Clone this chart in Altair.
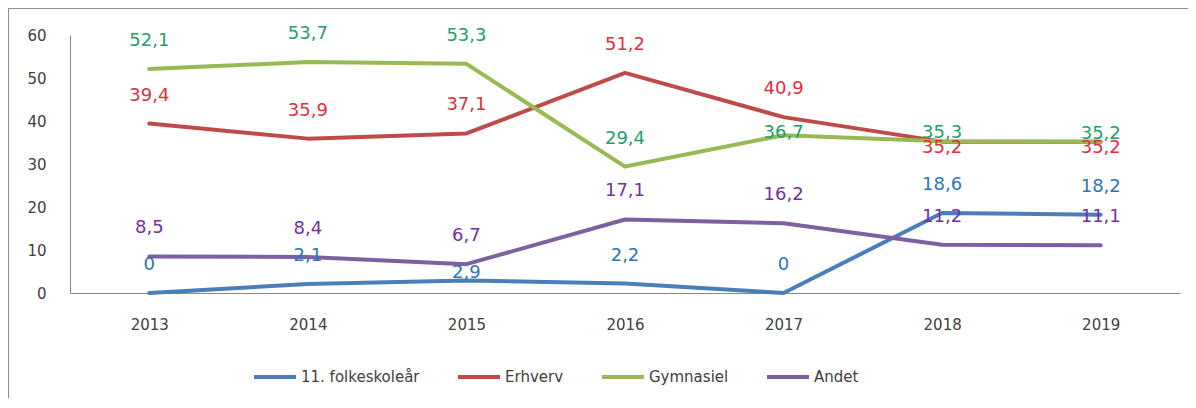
import altair as alt
import pandas as pd

years = ["2013", "2014", "2015", "2016", "2017", "2018", "2019"]
series_names = ["11. folkeskoleår", "Erhverv", "Gymnasiel", "Andet"]
folkeskole = [0, 2.1, 2.9, 2.2, 0, 18.6, 18.2]
erhverv = [39.4, 35.9, 37.1, 51.2, 40.9, 35.2, 35.2]
gymnasiel = [52.1, 53.7, 53.3, 29.4, 36.7, 35.3, 35.2]
andet = [8.5, 8.4, 6.7, 17.1, 16.2, 11.2, 11.1]

# styling
line_colors = ["#4A7EBB", "#BE4B48", "#98B954", "#7D60A0"]
label_colors = ["#2E75B6", "#E0303A", "#1FA06A", "#7030A0"]
# label offsets in pixels (negative = above point)
label_dy = {
    "11. folkeskoleår": [-28, -28, -8, -28, -28, -28, -28],
    "Erhverv": [-28, -28, -28, -28, -28, 6, 6],
    "Gymnasiel": [-28, -28, -28, -28, -2, -8, -8],
    "Andet": [-28, -28, -28, -28, -28, -28, -28],
}

values = [folkeskole, erhverv, gymnasiel, andet]
rows = []
for name, vals in zip(series_names, values):
    for i, (yr, v) in enumerate(zip(years, vals)):
        rows.append({
            "year": yr,
            "series": name,
            "value": v,
            "label": f"{v:g}".replace(".", ","),
            "dy": label_dy[name][i],
        })
df = pd.DataFrame(rows)

FONT = "DejaVu Sans"

x_scale = alt.Scale(type="point", padding=0.5)
y_scale = alt.Scale(domain=[0, 60], nice=False)

x_enc = alt.X("year:O", scale=x_scale, sort=years,
              axis=alt.Axis(title=None, labelAngle=0, ticks=False, labelPadding=24,
                            labelFontSize=15, labelColor="#404040", labelFont=FONT,
                            domainColor="#868686", grid=False))
y_enc = alt.Y("value:Q", scale=y_scale,
              axis=alt.Axis(title=None, values=[0, 10, 20, 30, 40, 50, 60], ticks=False,
                            labelPadding=24, labelFontSize=15, labelColor="#404040",
                            labelFont=FONT, domainColor="#868686", grid=False))

base = alt.Chart(df)

lines = base.mark_line(strokeWidth=4, strokeCap="round", strokeJoin="round").encode(
    x=x_enc,
    y=y_enc,
    color=alt.Color("series:N", sort=series_names,
                    scale=alt.Scale(domain=series_names, range=line_colors),
                    legend=alt.Legend(title=None, orient="none", direction="horizontal",
                                      columns=4, legendX=182, legendY=319,
                                      symbolType="stroke", symbolSize=1764,
                                      symbolStrokeWidth=4, labelFont=FONT,
                                      labelFontSize=15, labelColor="#404040",
                                      labelOffset=3, columnPadding=30)),
    detail="series:N",
)

label_layers = []
for off in sorted(df["dy"].unique()):
    label_layers.append(
        base.transform_filter(alt.datum.dy == int(off)).mark_text(
            fontSize=18, font=FONT, baseline="middle", align="center", dy=int(off)
        ).encode(
            x=alt.X("year:O", sort=years, scale=x_scale),
            y=alt.Y("value:Q", scale=y_scale),
            text="label:N",
            color=alt.Color("series:N",
                            scale=alt.Scale(domain=series_names, range=label_colors),
                            legend=None),
        )
    )

border_top = alt.Chart(df).mark_rule(color="#8C8C8C", strokeWidth=1.5, clip=False).encode(
    x=alt.value(-62), x2=alt.value(1130), y=alt.value(-27))
border_left = alt.Chart(df).mark_rule(color="#8C8C8C", strokeWidth=1.5, clip=False).encode(
    x=alt.value(-62), y=alt.value(-27), y2=alt.value(380))

chart = alt.layer(lines, *label_layers, border_top, border_left).resolve_scale(
    color="independent"
).properties(
    width=1110, height=258,
    background="white",
    padding={"left": 62, "top": 27, "right": 8, "bottom": 105},
    autosize=alt.AutoSizeParams(type="none"),
).configure_view(stroke=None, strokeWidth=0)

chart.save("out.html", embed_options={"renderer": "svg", "actions": False})
